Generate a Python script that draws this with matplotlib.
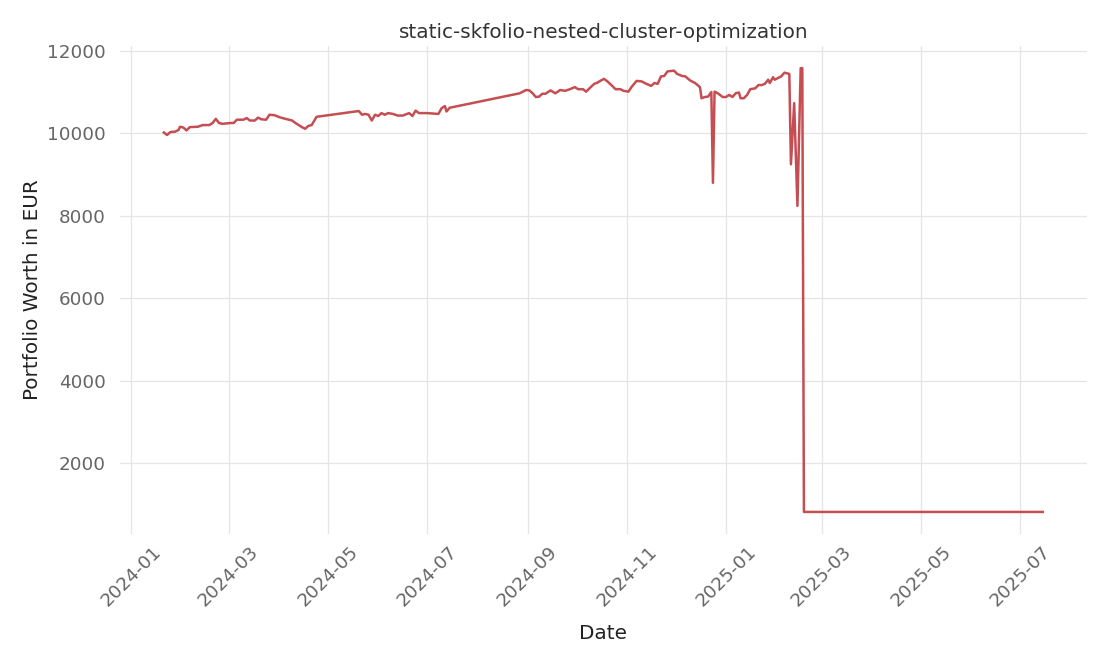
import pandas as pd
import matplotlib
matplotlib.use('Agg')
import matplotlib.pyplot as plt
import matplotlib.dates as mdates

# values
dates = [
    '2024-01-21', '2024-01-23', '2024-01-25', '2024-01-28', '2024-01-30', '2024-01-31',
    '2024-02-02', '2024-02-04', '2024-02-06', '2024-02-11', '2024-02-14', '2024-02-18',
    '2024-02-20', '2024-02-22', '2024-02-24', '2024-02-26', '2024-03-02', '2024-03-04',
    '2024-03-06', '2024-03-10', '2024-03-12', '2024-03-14', '2024-03-17', '2024-03-19',
    '2024-03-21', '2024-03-24', '2024-03-26', '2024-03-29', '2024-04-02', '2024-04-09',
    '2024-04-11', '2024-04-15', '2024-04-17', '2024-04-19', '2024-04-21', '2024-04-24',
    '2024-05-20', '2024-05-22', '2024-05-24', '2024-05-26', '2024-05-28', '2024-05-30',
    '2024-06-01', '2024-06-03', '2024-06-05', '2024-06-07', '2024-06-10', '2024-06-13',
    '2024-06-16', '2024-06-20', '2024-06-22', '2024-06-24', '2024-06-26', '2024-07-01',
    '2024-07-08', '2024-07-10', '2024-07-12', '2024-07-13', '2024-07-15',
    '2024-08-27', '2024-08-28', '2024-08-31', '2024-09-02', '2024-09-04', '2024-09-06',
    '2024-09-08', '2024-09-10', '2024-09-12', '2024-09-15', '2024-09-18', '2024-09-21',
    '2024-09-24', '2024-09-27', '2024-09-30', '2024-10-02', '2024-10-05', '2024-10-07',
    '2024-10-10', '2024-10-12', '2024-10-14', '2024-10-16', '2024-10-18', '2024-10-20',
    '2024-10-23', '2024-10-25', '2024-10-28', '2024-10-30', '2024-11-02', '2024-11-04',
    '2024-11-07', '2024-11-10', '2024-11-13', '2024-11-16', '2024-11-18', '2024-11-20',
    '2024-11-22', '2024-11-24', '2024-11-26', '2024-11-30', '2024-12-02', '2024-12-05',
    '2024-12-07', '2024-12-10', '2024-12-13', '2024-12-16', '2024-12-17', '2024-12-19',
    '2024-12-21', '2024-12-23', '2024-12-24', '2024-12-25', '2024-12-27', '2024-12-30',
    '2025-01-01', '2025-01-03', '2025-01-05', '2025-01-07', '2025-01-09', '2025-01-10',
    '2025-01-12', '2025-01-14', '2025-01-16', '2025-01-19', '2025-01-21', '2025-01-23',
    '2025-01-25', '2025-01-27', '2025-01-28', '2025-01-30', '2025-01-31', '2025-02-02',
    '2025-02-04', '2025-02-06', '2025-02-09', '2025-02-10', '2025-02-12', '2025-02-14',
    '2025-02-16', '2025-02-17', '2025-02-18', '2025-07-15',
]
worth = [
    10020, 9960, 10030, 10040, 10080, 10160,
    10140, 10070, 10150, 10160, 10200, 10200,
    10250, 10350, 10250, 10230, 10250, 10250,
    10330, 10330, 10370, 10310, 10310, 10380,
    10340, 10330, 10450, 10440, 10380, 10310,
    10250, 10150, 10110, 10180, 10200, 10400,
    10540, 10450, 10470, 10450, 10310, 10450,
    10420, 10490, 10450, 10490, 10470, 10430,
    10430, 10490, 10420, 10550, 10490, 10490,
    10470, 10610, 10660, 10530, 10620,
    10970, 10990, 11050, 11040, 10970, 10880,
    10890, 10960, 10960, 11040, 10970, 11050,
    11030, 11070, 11120, 11070, 11070, 11010,
    11130, 11200, 11230, 11280, 11320, 11260,
    11150, 11070, 11070, 11030, 11010, 11130,
    11270, 11260, 11200, 11150, 11220, 11200,
    11380, 11390, 11500, 11520, 11440, 11390,
    11380, 11280, 11220, 11120, 10850, 10880,
    10890, 11000, 8800, 11010, 10970, 10880,
    10880, 10930, 10880, 10970, 10990, 10850,
    10850, 10930, 11070, 11090, 11170, 11170,
    11200, 11300, 11220, 11360, 11300, 11340,
    11380, 11470, 11440, 9250, 10730, 8240,
    11580, 11580, 820, 820,
]

df = pd.DataFrame({'date': pd.to_datetime(dates), 'worth': worth})

plt.rcParams['font.family'] = 'DejaVu Sans'
fig, ax = plt.subplots(figsize=(11.1, 6.66), dpi=100)
fig.subplots_adjust(left=0.108, right=0.979, top=0.931, bottom=0.198)

ax.plot(df['date'], df['worth'], color='#c44e52', linewidth=1.8)

ax.set_title('static-skfolio-nested-cluster-optimization', fontsize=14.4, color='#333333')
ax.set_xlabel('Date', fontsize=14.4, color='#222222', labelpad=10)
ax.set_ylabel('Portfolio Worth in EUR', fontsize=14.4, color='#222222')

ax.xaxis.set_major_locator(mdates.MonthLocator(bymonth=[1, 3, 5, 7, 9, 11]))
ax.xaxis.set_major_formatter(mdates.DateFormatter('%Y-%m'))
plt.xticks(rotation=45)

ax.tick_params(axis='both', labelsize=13.2, labelcolor='#666666', length=0)
ax.tick_params(axis='y', pad=10)
ax.tick_params(axis='x', pad=6)

ax.grid(True, color='#e5e5e5', linewidth=0.9)
ax.set_axisbelow(True)
for s in ax.spines.values():
    s.set_visible(False)

plt.savefig('out.png', dpi=100)
